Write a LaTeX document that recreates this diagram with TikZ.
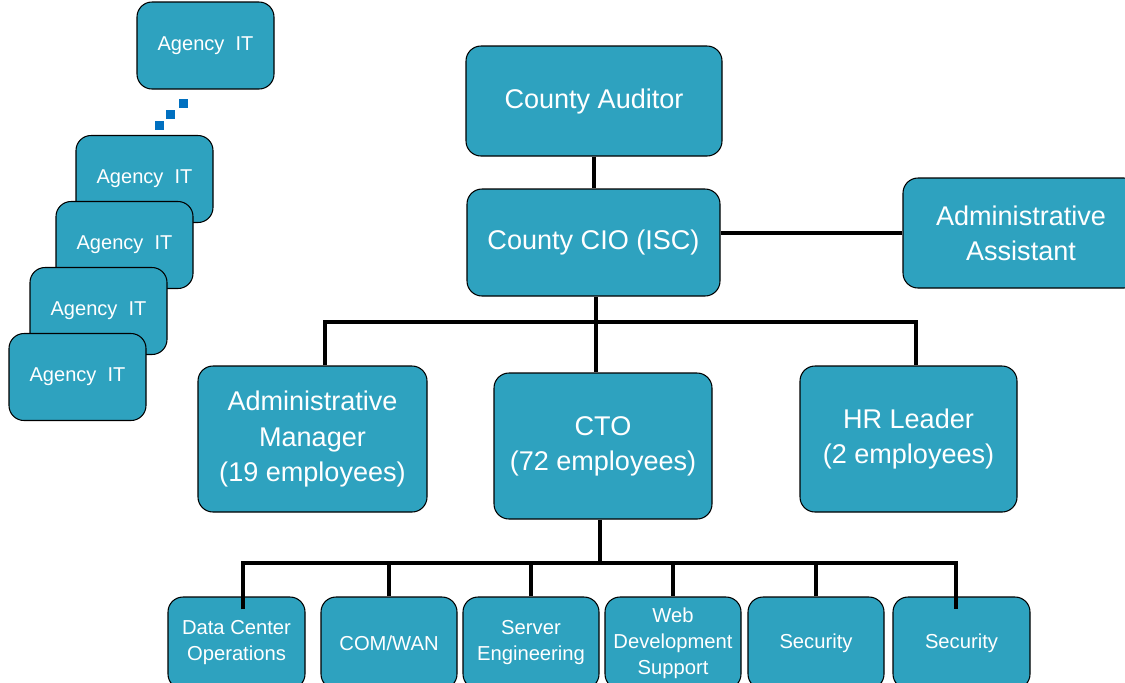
\documentclass[tikz,border=0pt]{standalone}
\usepackage{fontspec}
\setmainfont{Liberation Sans}
\definecolor{boxteal}{RGB}{46,162,191}
\definecolor{dotblue}{RGB}{0,112,192}

\begin{document}
\begin{tikzpicture}[
	box/.style={rectangle, rounded corners=0.3cm, draw=black, line width=0.6pt, fill=boxteal, text=white, align=center, inner sep=0pt},
	big/.style={box, font=\fontsize{15.4}{20}\selectfont},
	small/.style={box, minimum width=2.74cm, minimum height=1.84cm, font=\fontsize{11.5}{14.8}\selectfont},
	agency/.style={box, minimum width=2.74cm, minimum height=1.74cm, font=\fontsize{11.4}{14}\selectfont},
	link/.style={draw=black, line width=2pt},
	dot/.style={fill=dotblue, minimum size=0.18cm, inner sep=0pt},]

\useasboundingbox (0,0) rectangle (22.5,-13.64);

\node[agency] (ag0) at (4.11,-0.91) {Agency\ \ IT};
\node[agency] (ag1) at (2.89,-3.58) {Agency\ \ IT};
\node[agency] (ag2) at (2.49,-4.90) {Agency\ \ IT};
\node[agency] (ag3) at (1.97,-6.22) {Agency\ \ IT};
\node[agency] (ag4) at (1.55,-7.54) {Agency\ \ IT};
\foreach \x/\y [count=\i] in {3.66/-2.06, 3.40/-2.28, 3.18/-2.50}
	\node[dot] (dot\i) at (\x,\y) {};

\node[big, minimum width=5.12cm, minimum height=2.2cm] (aud) at (11.88,-2.02) {County Auditor};
\node[big, minimum width=5.06cm, minimum height=2.14cm] (cio) at (11.87,-4.85) {County CIO (ISC)};
\node[big, minimum width=4.72cm, minimum height=2.2cm] (asst) at (20.42,-4.66) {Administrative\\Assistant};
\node[big, minimum width=4.58cm, minimum height=2.92cm] (am) at (6.25,-8.78) {Administrative\\Manager\\(19 employees)};
\node[big, minimum width=4.36cm, minimum height=2.92cm] (cto) at (12.06,-8.92) {CTO\\(72 employees)};
\node[big, minimum width=4.34cm, minimum height=2.92cm] (hr) at (18.17,-8.78) {HR Leader\\(2 employees)};

\node[small] (dc) at (4.73,-12.86) {Data Center\\Operations};
\node[small, minimum width=2.72cm] (com) at (7.78,-12.86) {COM/WAN};
\node[small, minimum width=2.72cm] (srv) at (10.62,-12.86) {Server\\Engineering};
\node[small, minimum width=2.72cm] (web) at (13.46,-12.86) {Web\\Development\\Support};
\node[small, minimum width=2.72cm] (sec) at (16.32,-12.86) {Security};
\node[small] (sec2) at (19.23,-12.86) {Security};

\coordinate (top) at (11.92,-6.44);
\coordinate (bot) at (12.0,-11.26);

\draw[link] (aud.south) -- (aud.south |- cio.north);
\draw[link] (asst.west) -- (asst.west -| cio.east);
\draw[link] (top |- cio.south) -- (top |- cto.north);
\draw[link] ([xshift=0.25cm]am.north) |- (top) -| ([xshift=0.15cm]hr.north);
\draw[link] (bot |- cto.south) -- (bot);
\draw[link] ([xshift=0.13cm,yshift=-0.26cm]dc.north) |- (bot) -| ([xshift=-0.11cm,yshift=-0.26cm]sec2.north);
\foreach \n in {com,srv,web,sec}
	\draw[link] (\n.north) -- (\n.north |- bot);
\end{tikzpicture}
\end{document}
